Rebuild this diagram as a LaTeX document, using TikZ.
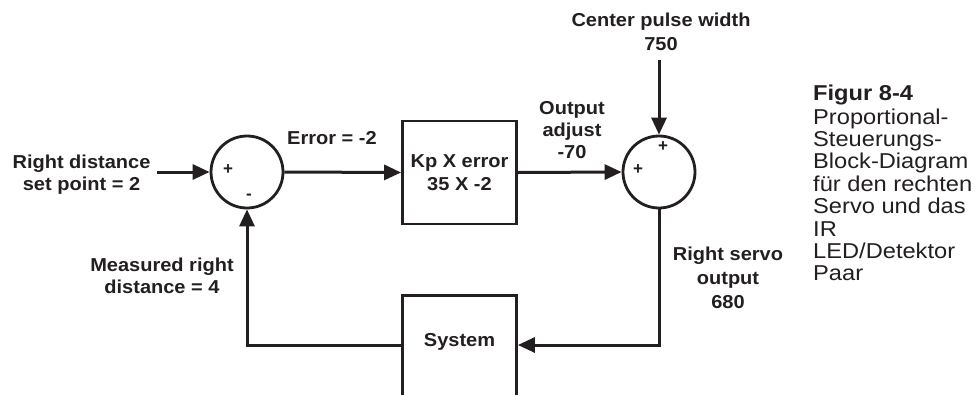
\documentclass[tikz,border=0pt]{standalone}
\usepackage{fontspec}
\setmainfont{Liberation Sans}
\newfontfamily\lblfont[FakeStretch=1.07]{Liberation Sans}
\newfontfamily\capfont[FakeStretch=1.1]{Liberation Sans}
\usetikzlibrary{arrows.meta,calc}
\definecolor{ink}{HTML}{231F20}
\begin{document}
\begin{tikzpicture}[x=1pt,y=-1pt,
  every node/.style={text=ink},
  wire/.style={draw=ink, line width=3pt},
  arr/.style={wire, -{Triangle[length=17pt,width=15pt]}},
  sumnode/.style={circle, draw=ink, line width=2.8pt, minimum size=72pt, inner sep=0pt},
  blk/.style={draw=ink, line width=2.8pt, minimum width=114pt, minimum height=103pt, inner sep=0pt, align=center, font=\lblfont\bfseries\fontsize{18.7}{23}\selectfont},
  lbl/.style={align=center, inner sep=0pt, font=\lblfont\bfseries\fontsize{18.7}{22}\selectfont},
  lblw/.style={align=center, inner sep=0pt, font=\lblfont\bfseries\fontsize{18.7}{24}\selectfont},
  sgn/.style={inner sep=0pt, font=\bfseries\fontsize{17}{17}\selectfont}]
\useasboundingbox[fill=white] (0,0) rectangle (977,394);

% blocks
\node[sumnode] (sum1) at (247,172) {};
\node[sumnode] (sum2) at (659,172) {};
\node[blk] (kp) at (459.5,172.5) {Kp X error\\35 X -2};
\node[blk, minimum height=200pt, anchor=north] (sys) at (459.5,294) {};
\node[lbl] (systxt) at (459.5,342) {System};

% signs
\node[sgn] (p1) at (228,170) {+};
\node[sgn] (m1) at (249,197) {-};
\node[sgn] (p2) at (638,170) {+};
\node[sgn] (p3) at (663,147) {+};

% connectors
\coordinate (inS) at (157,172);
\coordinate (cpS) at (659,60);
\coordinate (fb) at (0,345);
\draw[arr] (inS) -- (sum1.west);
\draw[arr] (sum1.east) -- (kp.west);
\draw[arr] (kp.east) -- (sum2.west);
\draw[arr] (cpS) -- (sum2.north);
\draw[arr] (sum2.south) |- (sys.east |- fb);
\draw[arr] (sys.west |- fb) -| (sum1.south);

% labels
\node[lbl] (rd) at (81.5,175) {Right distance\\set point = 2};
\node[lbl] (err) at (332,138) {Error = -2};
\node[lbl] (oa) at (572,130) {Output\\adjust\\-70};
\node[lblw] (cp) at (661,32) {Center pulse width\\750};
\node[lbl] (mr) at (162,276) {Measured right\\distance = 4};
\node[lblw] (rs) at (728,278) {Right servo\\output\\680};

% caption
\node[anchor=north west, inner sep=0pt, align=left, font=\capfont\fontsize{21.5}{22.4}\selectfont] (cap) at (813,85)
  {\textbf{Figur 8-4}\\[1pt]Proportional-\\Steuerungs-\\Block-Diagram\\für den rechten\\Servo und das\\IR\\LED/Detektor\\Paar};
\end{tikzpicture}
\end{document}
